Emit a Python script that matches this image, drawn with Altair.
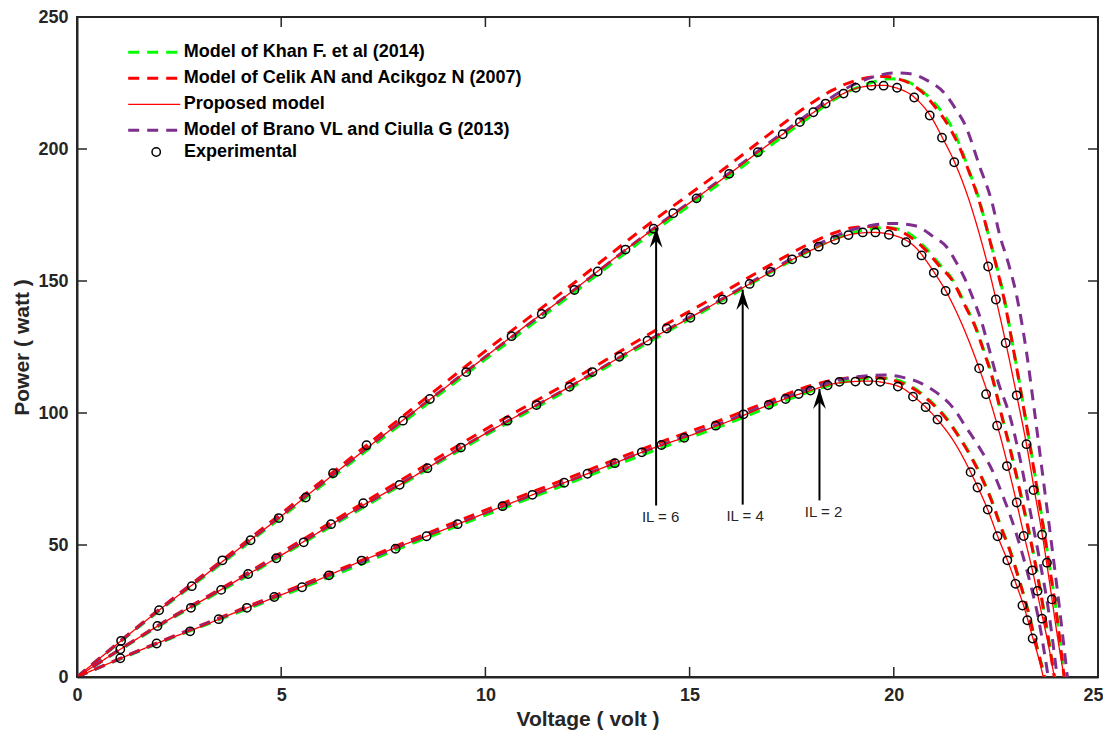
import altair as alt
import pandas as pd

FONT = "Liberation Sans"
DARK = "#262626"

# ---------------- axis ticks ----------------
X_TICKS = [0, 5, 10, 15, 20, 25]
Y_TICKS = [0, 50, 100, 150, 200, 250]

# ---------------- legend / models ----------------
MODELS = [
    "Model of Khan F. et al (2014)",
    "Model of Celik AN and Acikgoz N (2007)",
    "Proposed model",
    "Model of Brano VL and Ciulla G (2013)",
]
MODEL_COLORS = ["#00ff00", "#ff0000", "#ff0000", "#7e2f8e"]
MODEL_DASH = [[11, 8], [11, 8], [1, 0], [11, 8]]
MODEL_WIDTH = [3, 3, 1.3, 3]
EXP_LABEL = "Experimental"

# ================= IL = 6 (upper curve) =================
V_prop_6 = [0, 1, 2, 3, 4, 5, 6, 7, 8, 9, 10, 11, 12, 13, 14, 15, 16, 17, 17.5, 18, 18.5, 19, 19.5, 19.75, 20, 20.5, 20.9, 21.2, 21.5, 21.85, 22.1, 22.3, 22.5, 22.75, 23.0, 23.25, 23.45, 23.65, 23.85, 24.0, 24.17]
P_prop_6 = [0, 12.7, 25.2, 37.0, 49.0, 60.9, 73.3, 85.5, 97.5, 109.4, 121.3, 133.2, 144.6, 156.7, 168.4, 179.6, 190.9, 202.5, 208.0, 213.5, 218.7, 222.6, 224.0, 224.1, 223.4, 219.6, 212.5, 204.0, 194.6, 180.3, 167.5, 156.0, 143.2, 126.0, 107.4, 88.0, 70.0, 52.5, 32.0, 16.0, 0]

V_celik_6 = [0, 2, 4, 6, 8, 10, 12, 14, 16, 17, 18, 18.5, 19, 19.5, 19.8, 20.1, 20.4, 20.7, 21.0, 21.35, 21.6, 21.85, 22.1, 22.3, 22.5, 22.7, 22.9, 23.2, 23.5, 23.8, 24.0, 24.17]
P_celik_6 = [0, 25.5, 49.6, 74.3, 99.0, 123.5, 147.2, 171.5, 194.3, 206.2, 217.5, 222.3, 225.6, 227.3, 227.5, 226.6, 224.8, 221.5, 216.2, 208.5, 201.0, 191.0, 179.8, 168.5, 156.3, 143.2, 126.5, 100.0, 72.0, 43.0, 22.0, 0]

V_khan_6 = [0, 2, 4, 6, 8, 10, 12, 14, 16, 17, 18, 18.5, 19, 19.5, 19.9, 20.2, 20.55, 20.85, 21.15, 21.4, 21.6, 21.85, 22.1, 22.3, 22.5, 22.7, 22.9, 23.2, 23.5, 23.8, 24.0, 24.18]
P_khan_6 = [0, 24.9, 48.4, 72.6, 96.6, 120.3, 143.6, 167.3, 189.9, 201.5, 212.8, 218.3, 222.6, 225.4, 226.6, 226.2, 223.7, 219.8, 214.6, 208.8, 202.0, 191.5, 180.3, 168.5, 156.8, 143.8, 127.0, 100.5, 72.5, 43.5, 22.5, 0]

V_brano_6 = [0, 2, 4, 6, 8, 10, 12, 14, 16, 17, 18, 18.5, 19, 19.5, 20.0, 20.4, 20.85, 21.25, 21.5, 21.75, 22.1, 22.4, 22.6, 22.8, 23.0, 23.25, 23.45, 23.65, 23.85, 24.05, 24.25]
P_brano_6 = [0, 25.2, 48.9, 73.3, 97.5, 121.3, 144.6, 168.5, 191.2, 203.0, 214.3, 219.8, 224.3, 227.3, 228.8, 228.5, 225.7, 221.0, 215.5, 209.0, 193.5, 180.0, 167.0, 157.0, 145.0, 123.0, 100.0, 76.0, 52.0, 27.0, 0]

V_exp_6 = [1.08, 2.01, 2.81, 3.56, 4.25, 4.94, 5.60, 6.27, 7.09, 7.98, 8.64, 9.53, 10.64, 11.38, 12.18, 12.75, 13.43, 14.12, 14.60, 15.17, 15.97, 16.67, 17.28, 17.70, 18.03, 18.33, 18.77, 19.07, 19.45, 19.75, 20.08, 20.50, 20.88, 21.18, 21.48, 22.31, 22.50, 22.74, 23.01, 23.25, 23.42, 23.63, 23.75, 23.87]
P_exp_6 = [13.7, 25.3, 34.4, 44.2, 51.8, 60.2, 68.0, 77.2, 87.8, 97.1, 105.3, 115.5, 129.1, 137.5, 146.6, 153.6, 161.9, 169.8, 175.7, 181.3, 190.6, 198.8, 205.6, 210.2, 213.9, 217.2, 221.0, 223.2, 224.0, 224.0, 223.2, 219.5, 212.7, 204.3, 195.0, 155.5, 143.0, 126.5, 106.7, 88.2, 70.8, 53.9, 43.3, 29.4]

# ================= IL = 4 (middle curve) =================
V_prop_4 = [0, 1, 2, 3, 4, 5, 6, 7, 8, 9, 10, 11, 12, 13, 14, 15, 16, 17, 17.5, 18, 18.5, 19, 19.5, 20, 20.5, 21, 21.3, 21.7, 22.1, 22.3, 22.55, 22.8, 23.0, 23.2, 23.4, 23.6, 23.8, 23.93]
P_prop_4 = [0, 9.9, 19.5, 28.4, 37.3, 46.1, 55.6, 65.0, 73.7, 83.1, 92.2, 100.8, 109.4, 118.5, 127.6, 136.0, 144.8, 153.5, 158.0, 161.8, 165.3, 167.8, 168.4, 167.3, 163.2, 153.0, 145.5, 132.5, 116.5, 107.5, 94.5, 79.5, 66.5, 53.0, 40.0, 25.5, 11.0, 0]

V_celik_4 = [0, 2, 4, 6, 8, 10, 12, 14, 16, 17, 18, 18.5, 19, 19.5, 19.9, 20.3, 20.8, 21.1, 21.45, 21.75, 22.0, 22.2, 22.4, 22.65, 22.9, 23.15, 23.4, 23.65, 23.93]
P_celik_4 = [0, 19.7, 37.8, 56.5, 75.2, 93.8, 111.3, 129.8, 147.3, 156.3, 164.6, 168.0, 170.2, 170.7, 170.1, 167.7, 161.4, 156.0, 149.8, 140.5, 132.4, 123.5, 114.0, 98.4, 83.0, 66.0, 48.0, 27.0, 0]

V_khan_4 = [0, 2, 4, 6, 8, 10, 12, 14, 16, 17, 18, 18.5, 19, 19.5, 19.85, 20.3, 20.8, 21.1, 21.45, 21.75, 22.0, 22.2, 22.4, 22.65, 22.9, 23.15, 23.4, 23.65, 23.94]
P_khan_4 = [0, 19.2, 36.8, 55.0, 73.3, 91.5, 108.6, 126.8, 144.3, 153.4, 161.9, 165.6, 168.3, 169.9, 170.2, 168.6, 162.2, 156.7, 150.3, 141.0, 132.8, 124.0, 114.5, 98.9, 83.5, 66.5, 48.5, 27.5, 0]

V_brano_4 = [0, 2, 4, 6, 8, 10, 12, 14, 16, 17, 18, 18.5, 19, 19.5, 19.97, 20.55, 20.95, 21.3, 21.55, 21.75, 21.95, 22.15, 22.3, 22.55, 22.85, 23.1, 23.35, 23.55, 23.8, 24.0]
P_brano_4 = [0, 19.5, 37.3, 55.6, 73.9, 92.2, 109.4, 127.6, 145.0, 154.0, 162.8, 166.5, 169.5, 171.2, 171.8, 170.8, 167.0, 162.8, 156.5, 150.5, 143.0, 134.5, 126.2, 112.0, 98.4, 82.0, 62.0, 46.0, 24.0, 0]

V_exp_4 = [1.06, 1.97, 2.79, 3.53, 4.19, 4.88, 5.55, 6.22, 7.01, 7.90, 8.58, 9.40, 10.54, 11.25, 12.06, 12.62, 13.28, 13.97, 14.44, 15.02, 15.81, 16.47, 16.98, 17.51, 17.85, 18.16, 18.56, 18.89, 19.24, 19.55, 19.88, 20.30, 20.68, 20.98, 21.27, 22.09, 22.26, 22.53, 22.77, 23.01, 23.18, 23.39, 23.52, 23.63]
P_exp_4 = [10.5, 19.3, 26.2, 33.0, 39.0, 45.0, 51.0, 57.9, 65.8, 72.8, 79.1, 86.9, 97.1, 103.0, 109.9, 115.5, 121.3, 127.4, 132.0, 136.1, 143.0, 148.9, 153.4, 158.2, 160.5, 163.0, 165.6, 167.4, 168.4, 168.4, 167.5, 164.7, 159.7, 153.1, 146.2, 116.9, 107.1, 95.2, 79.9, 66.1, 53.4, 40.4, 32.6, 22.1]

# ================= IL = 2 (lower curve) =================
V_prop_2 = [0, 1, 2, 3, 4, 5, 6, 7, 8, 9, 10, 11, 12, 13, 14, 15, 16, 17, 17.5, 18, 18.5, 19, 19.4, 19.8, 20.2, 20.6, 21.0, 21.5, 21.9, 22.1, 22.3, 22.55, 22.8, 23.0, 23.2, 23.4, 23.55, 23.66]
P_prop_2 = [0, 6.6, 13.0, 18.9, 25.2, 31.1, 37.4, 44.2, 50.1, 55.9, 62.1, 68.1, 74.0, 80.0, 86.1, 91.4, 97.1, 103.4, 106.2, 108.7, 111.0, 111.9, 112.1, 111.4, 109.5, 104.8, 98.7, 88.5, 77.0, 70.5, 63.4, 53.0, 43.5, 35.0, 26.0, 15.0, 7.0, 0]

V_celik_2 = [0, 2, 4, 6, 8, 10, 12, 14, 16, 17, 18, 18.5, 19, 19.4, 19.8, 20.15, 20.55, 20.95, 21.3, 21.6, 21.85, 22.15, 22.4, 22.62, 22.85, 23.07, 23.28, 23.48, 23.69]
P_celik_2 = [0, 13.2, 25.6, 38.0, 50.8, 63.2, 75.2, 87.3, 98.7, 104.8, 110.5, 112.4, 113.4, 113.5, 113.1, 111.6, 108.5, 103.4, 97.5, 90.8, 84.5, 75.5, 66.5, 56.8, 47.5, 36.7, 25.3, 12.7, 0]

V_khan_2 = [0, 2, 4, 6, 8, 10, 12, 14, 16, 17, 18, 18.5, 19, 19.5, 19.85, 20.15, 20.55, 20.95, 21.3, 21.6, 21.85, 22.15, 22.4, 22.62, 22.85, 23.07, 23.28, 23.48, 23.7]
P_khan_2 = [0, 12.8, 24.8, 36.7, 49.3, 61.3, 73.1, 85.0, 96.4, 102.6, 108.4, 110.8, 112.4, 113.2, 113.2, 112.2, 108.9, 103.8, 97.9, 91.2, 84.9, 75.9, 66.9, 57.2, 47.9, 37.0, 25.6, 13.0, 0]

V_brano_2 = [0, 2, 4, 6, 8, 10, 12, 14, 16, 17, 18, 18.5, 19, 19.4, 19.75, 20.2, 20.65, 21.05, 21.45, 21.77, 22.1, 22.42, 22.66, 22.9, 23.15, 23.35, 23.55, 23.78]
P_brano_2 = [0, 13.0, 25.2, 37.4, 50.1, 62.1, 74.0, 86.1, 97.5, 103.8, 109.6, 111.9, 113.5, 114.2, 114.4, 113.6, 111.4, 107.7, 102.0, 94.6, 86.8, 78.0, 69.0, 59.0, 46.5, 35.0, 21.5, 0]

V_exp_2 = [1.06, 1.95, 2.77, 3.47, 4.16, 4.83, 5.51, 6.17, 6.97, 7.80, 8.56, 9.32, 10.42, 11.15, 11.93, 12.50, 13.17, 13.83, 14.31, 14.87, 15.64, 16.32, 16.94, 17.35, 17.67, 17.96, 18.38, 18.67, 19.06, 19.37, 19.67, 20.10, 20.47, 20.78, 21.07, 21.88, 22.05, 22.30, 22.54, 22.78, 22.98, 23.15, 23.27, 23.40]
P_exp_2 = [7.1, 12.7, 17.3, 21.9, 26.2, 30.3, 34.0, 38.5, 44.1, 48.6, 53.3, 57.9, 64.7, 69.0, 73.6, 77.0, 81.0, 85.1, 87.9, 90.6, 95.2, 99.5, 103.1, 105.3, 107.2, 108.5, 110.5, 111.8, 111.9, 112.1, 111.8, 110.0, 106.2, 102.2, 97.5, 77.6, 71.8, 63.4, 53.3, 44.2, 35.3, 27.1, 21.5, 14.6]

# ---------------- annotations ----------------
ARROW_LABELS = ["IL = 6", "IL = 4", "IL = 2"]
ARROW_V = [14.18, 16.30, 18.18]
ARROW_P_START = [65.0, 65.3, 66.9]
ARROW_P_TIP = [170.2, 146.6, 109.1]
LABEL_V = [14.29, 16.36, 18.28]
LABEL_P = [60.6, 60.8, 62.5]

# ---------------- build tables ----------------
model_curves = {
    MODELS[0]: [(V_khan_6, P_khan_6), (V_khan_4, P_khan_4), (V_khan_2, P_khan_2)],
    MODELS[1]: [(V_celik_6, P_celik_6), (V_celik_4, P_celik_4), (V_celik_2, P_celik_2)],
    MODELS[2]: [(V_prop_6, P_prop_6), (V_prop_4, P_prop_4), (V_prop_2, P_prop_2)],
    MODELS[3]: [(V_brano_6, P_brano_6), (V_brano_4, P_brano_4), (V_brano_2, P_brano_2)],
}
rows = []
for m, curves in model_curves.items():
    for ci, (vs, ps) in enumerate(curves):
        for i, (v, p) in enumerate(zip(vs, ps)):
            rows.append({"V": v, "P": p, "model": m, "curve": f"{m}-{ci}", "idx": i})
lines_df = pd.DataFrame(rows)

exp_rows = []
for vs, ps in [(V_exp_6, P_exp_6), (V_exp_4, P_exp_4), (V_exp_2, P_exp_2)]:
    for v, p in zip(vs, ps):
        exp_rows.append({"V": v, "P": p, "kind": EXP_LABEL})
exp_df = pd.DataFrame(exp_rows)

arrow_df = pd.DataFrame({"V": ARROW_V, "P0": ARROW_P_START, "P1": ARROW_P_TIP,
                         "LV": LABEL_V, "LP": LABEL_P, "label": ARROW_LABELS})

W, H = 1021, 660

xscale = alt.Scale(domain=[0, 25], nice=False, zero=False)
yscale = alt.Scale(domain=[0, 250], nice=False, zero=False)

xaxis = alt.Axis(title="Voltage ( volt )", values=X_TICKS, ticks=False, grid=False,
                 labelFont=FONT, labelFontSize=18, labelFontWeight="bold", labelColor=DARK,
                 labelPadding=9, labelFlush=True, labelFlushOffset=5, labelOverlap=False,
                 titleFont=FONT, titleFontSize=21, titleFontWeight="bold", titleColor=DARK,
                 titlePadding=4, domainColor=DARK, domainWidth=2)
yaxis = alt.Axis(title="Power ( watt )", values=Y_TICKS, ticks=False, grid=False,
                 labelFont=FONT, labelFontSize=18, labelFontWeight="bold", labelColor=DARK,
                 labelPadding=9, labelFlush=False, labelOverlap=False,
                 titleFont=FONT, titleFontSize=21, titleFontWeight="bold", titleColor=DARK,
                 titlePadding=5, domainColor=DARK, domainWidth=2)


def X(field):
    return alt.X(field, scale=xscale, axis=xaxis)


def Y(field):
    return alt.Y(field, scale=yscale, axis=yaxis)


line_legend = alt.Legend(title=None, orient="none", legendX=49.7, legendY=22.7,
                         symbolType="stroke", symbolSize=2704, clipHeight=25.2,
                         rowPadding=0, padding=0, labelOffset=2,
                         labelFont=FONT, labelFontSize=18, labelFontWeight="bold",
                         labelColor="black", labelLimit=0)
exp_legend = alt.Legend(title=None, orient="none", legendX=70.2, legendY=122.5,
                        symbolType="circle", symbolSize=70, symbolStrokeColor="black",
                        symbolFillColor="transparent", symbolStrokeWidth=1.5,
                        clipHeight=25, rowPadding=0, padding=0, labelOffset=18.8,
                        labelFont=FONT, labelFontSize=18, labelFontWeight="bold",
                        labelColor="black", labelLimit=0)


def model_layer(name):
    return alt.Chart(lines_df).transform_filter(alt.datum.model == name).mark_line(
        interpolate="monotone", clip=True
    ).encode(
        x=X("V:Q"),
        y=Y("P:Q"),
        color=alt.Color("model:N", scale=alt.Scale(domain=MODELS, range=MODEL_COLORS), legend=line_legend),
        strokeDash=alt.StrokeDash("model:N", scale=alt.Scale(domain=MODELS, range=MODEL_DASH), legend=line_legend),
        strokeWidth=alt.StrokeWidth("model:N", scale=alt.Scale(type="ordinal", domain=MODELS, range=MODEL_WIDTH), legend=line_legend),
        detail="curve:N",
        order="idx:Q",
    )


# inward ticks on all four sides
xt_df = pd.DataFrame({"V": X_TICKS})
yt_df = pd.DataFrame({"P": Y_TICKS})
tick_bottom = alt.Chart(xt_df).mark_rule(color=DARK, strokeWidth=1.5).encode(
    x=X("V:Q"), y=alt.value(H), y2=alt.value(H - 10))
tick_top = alt.Chart(xt_df).mark_rule(color=DARK, strokeWidth=1.5).encode(
    x=X("V:Q"), y=alt.value(0), y2=alt.value(10))
tick_left = alt.Chart(yt_df).mark_rule(color=DARK, strokeWidth=1.5).encode(
    y=Y("P:Q"), x=alt.value(0), x2=alt.value(10))
tick_right = alt.Chart(yt_df).mark_rule(color=DARK, strokeWidth=1.5).encode(
    y=Y("P:Q"), x=alt.value(W), x2=alt.value(W - 10))

points = alt.Chart(exp_df).mark_point(filled=False, stroke="black", strokeWidth=1.5,
                                      size=70, opacity=1).encode(
    x=X("V:Q"),
    y=Y("P:Q"),
    shape=alt.Shape("kind:N", scale=alt.Scale(domain=[EXP_LABEL], range=["circle"]), legend=exp_legend),
)

arrows = alt.Chart(arrow_df).mark_rule(color="black", strokeWidth=2).encode(
    x=X("V:Q"),
    y=Y("P0:Q"),
    y2="P1:Q",
)
heads = alt.Chart(arrow_df).mark_point(
    shape="M0,0 L0.64,2 L0,1.3 L-0.64,2 Z", filled=True, color="black", size=400, opacity=1
).encode(
    x=X("V:Q"),
    y=Y("P1:Q"),
)
labels = alt.Chart(arrow_df).mark_text(font=FONT, fontSize=15, color=DARK,
                                       align="center", baseline="middle").encode(
    x=X("LV:Q"),
    y=Y("LP:Q"),
    text="label:N",
)

chart = alt.layer(
    model_layer(MODELS[0]),
    model_layer(MODELS[1]),
    model_layer(MODELS[3]),
    model_layer(MODELS[2]),
    points,
    arrows, heads, labels,
    tick_bottom, tick_top, tick_left, tick_right,
).properties(
    width=W, height=H,
    autosize=alt.AutoSizeParams(type="none"),
    padding={"left": 69, "top": 9, "right": 5, "bottom": 55},
    background="white",
).configure_view(stroke=DARK, strokeWidth=2)

chart.save("out.html", embed_options={"renderer": "svg", "actions": False})
